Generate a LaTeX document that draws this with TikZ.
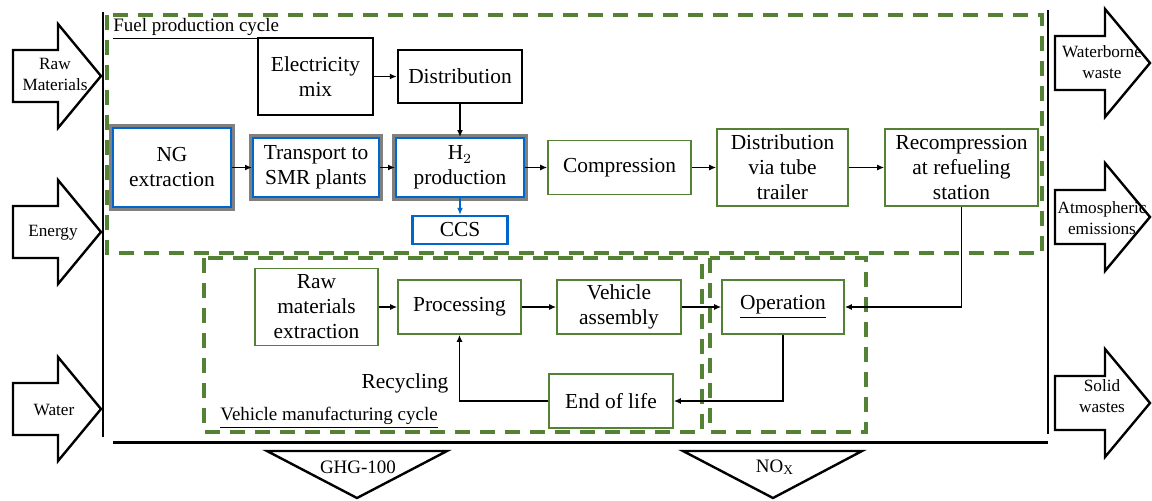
\documentclass[tikz,border=0pt]{standalone}
\usepackage{fontspec}
\setmainfont{Liberation Serif}
\usetikzlibrary{arrows.meta}
\definecolor{lcagreen}{RGB}{84,130,53}
\definecolor{lcablue}{RGB}{0,102,204}
\definecolor{lcagray}{RGB}{128,128,128}

\begin{document}
\begin{tikzpicture}[x=0.5pt,y=-0.5pt,
    >={Latex[length=3.5pt,width=3pt]},
    every node/.style={inner sep=1pt,align=center,font=\fontsize{10.7}{12.5}\selectfont},
    blackbox/.style={draw,line width=1.2pt,fill=white},
    greenbox/.style={draw=lcagreen,line width=0.8pt,fill=white},
    bluebox/.style={draw=lcablue,line width=1pt,fill=white,preaction={draw=lcagray,line width=4pt}},
    cyclebox/.style={draw=lcagreen,line width=1.75pt,dash pattern=on 7.5pt off 5pt},
    flow/.style={->,line width=0.7pt},
    blockarrow/.style={draw,line width=1.2pt,fill=white,line join=miter},
    sidetext/.style={font=\fontsize{8.6}{10.5}\selectfont},
    cycletext/.style={font=\fontsize{9.5}{11}\selectfont,anchor=base west}]
    \useasboundingbox (0,0) rectangle (1152,500);

    % dashed cycles
    \draw[cyclebox] (107,15) rectangle (1042,253);
    \draw[cyclebox] (204,258) rectangle (702,432);
    \draw[cyclebox] (710,258) rectangle (866,432);
    \node[cycletext] (fuellabel) at (111,31) {\underline{Fuel production cycle}};
    \node[cycletext] (vehlabel) at (218,420) {\underline{Vehicle manufacturing cycle}};

    % system boundary
    \draw[line width=1pt] (103,12) -- (103,437);
    \draw[line width=1.5pt] (113,442) -- (1048,442);
    \draw[line width=1pt] (1048,10) -- (1048,434);

    % inputs
    \draw[blockarrow] (13,50) -- ++(45,0) -- ++(0,-26) -- ++(43,52) -- ++(-43,52) -- ++(0,-26) -- ++(-45,0) -- cycle;
    \draw[blockarrow] (13,206) -- ++(45,0) -- ++(0,-26) -- ++(43,52) -- ++(-43,52) -- ++(0,-26) -- ++(-45,0) -- cycle;
    \draw[blockarrow] (13,383) -- ++(45,0) -- ++(0,-26) -- ++(43,52) -- ++(-43,52) -- ++(0,-26) -- ++(-45,0) -- cycle;
    \node[sidetext] (rawin) at (55,74) {Raw\\Materials};
    \node[sidetext] (energyin) at (53,233) {Energy};
    \node[sidetext] (waterin) at (54,410) {Water};

    % outputs
    \draw[blockarrow] (1055,36) -- ++(50,0) -- ++(0,-27) -- ++(45,54) -- ++(-45,54) -- ++(0,-27) -- ++(-50,0) -- cycle;
    \draw[blockarrow] (1055,190) -- ++(50,0) -- ++(0,-27) -- ++(45,54) -- ++(-45,54) -- ++(0,-27) -- ++(-50,0) -- cycle;
    \draw[blockarrow] (1055,376) -- ++(50,0) -- ++(0,-27) -- ++(45,54) -- ++(-45,54) -- ++(0,-27) -- ++(-50,0) -- cycle;
    \node[sidetext] (waterout) at (1102,62) {Waterborne\\waste};
    \node[sidetext] (airout) at (1102,218) {Atmospheric\\emissions};
    \node[sidetext] (solidout) at (1102,396) {Solid\\wastes};

    % emissions
    \draw[line width=1.2pt] (267,451) -- (447,451) -- (357,498) -- cycle;
    \draw[line width=1.2pt] (683,451) -- (862,451) -- (773,498) -- cycle;
    \node[sidetext,font=\fontsize{9.5}{11}\selectfont] (ghg) at (358,467) {GHG-100};
    \node[sidetext,font=\fontsize{9.5}{11}\selectfont] (nox) at (775,467) {NO$_\mathrm{X}$};

    % fuel production
    \node[blackbox,minimum width=57.5pt,minimum height=38.5pt] (elec) at (315.5,76.5) {Electricity\\mix};
    \node[blackbox,minimum width=62pt,minimum height=26.5pt] (dist) at (460,76.5) {Distribution};
    \node[bluebox,minimum width=59pt,minimum height=39.5pt] (ng) at (172,167.5) {NG\\extraction};
    \node[bluebox,minimum width=63pt,minimum height=29.5pt] (transport) at (316,167.5) {Transport to\\SMR plants};
    \node[bluebox,minimum width=64pt,minimum height=29.5pt] (htwo) at (460,167.5) {H$_2$\\production};
    \node[draw=lcablue,line width=1.2pt,minimum width=47.5pt,minimum height=14pt] (ccs) at (460,230) {CCS};
    \node[greenbox,minimum width=71.5pt,minimum height=27pt] (comp) at (619.5,167.5) {Compression};
    \node[greenbox,minimum width=65.5pt,minimum height=38.5pt] (tube) at (782.5,167.5) {Distribution\\via tube\\trailer};
    \node[greenbox,minimum width=76.5pt,minimum height=38.5pt] (recomp) at (961.5,167.5) {Recompression\\at refueling\\station};

    % vehicle cycle
    \node[greenbox,minimum width=61.5pt,minimum height=38.5pt] (raw) at (316.5,307) {Raw\\materials\\extraction};
    \node[greenbox,minimum width=61.5pt,minimum height=27pt] (proc) at (459.5,307) {Processing};
    \node[greenbox,minimum width=62pt,minimum height=27pt] (veh) at (619,307) {Vehicle\\assembly};
    \node[greenbox,minimum width=61pt,minimum height=27pt] (oper) at (783,307) {\underline{Operation}};
    \node[greenbox,minimum width=62pt,minimum height=27pt] (eol) at (611,401) {End of life};
    \node[] (recycling) at (405,383) {Recycling};

    \draw[flow] (elec) -- (dist);
    \draw[flow] (dist) -- (htwo);
    \draw[flow] (ng) -- (transport);
    \draw[flow] (transport) -- (htwo);
    \draw[flow] (htwo) -- (comp);
    \draw[flow,lcablue] (htwo) -- (ccs);
    \draw[flow] (comp) -- (tube);
    \draw[flow] (tube) -- (recomp);
    \draw[flow] (recomp.south) |- (oper.east);
    \draw[flow] (raw) -- (proc);
    \draw[flow] (proc) -- (veh);
    \draw[flow] (veh) -- (oper);
    \draw[flow] (oper.south) |- (eol.east);
    \draw[flow] (eol.west) -| (proc.south);
\end{tikzpicture}
\end{document}
